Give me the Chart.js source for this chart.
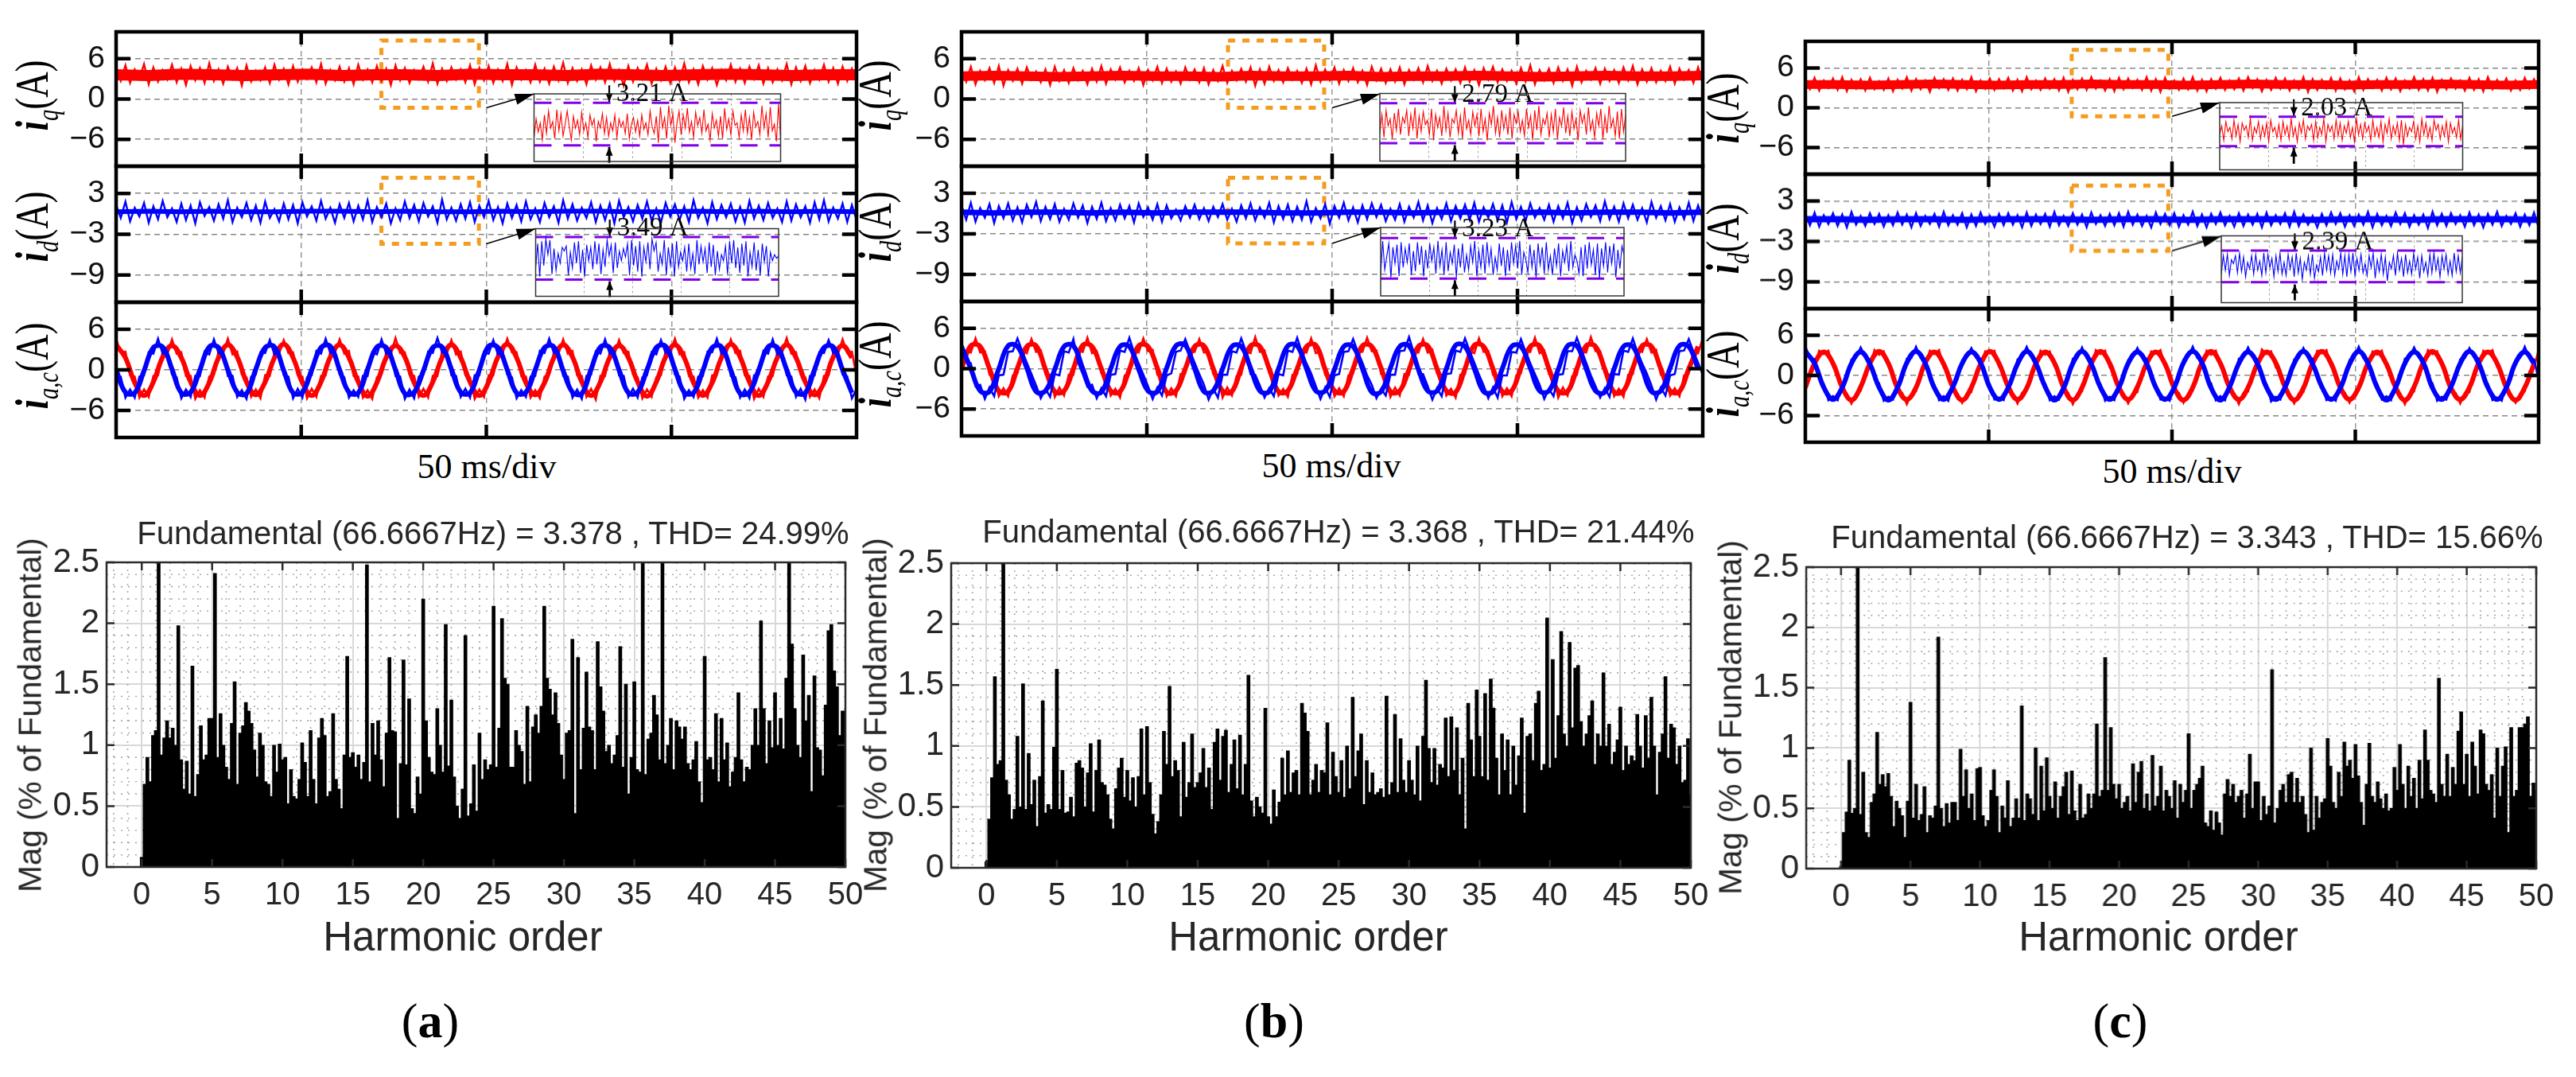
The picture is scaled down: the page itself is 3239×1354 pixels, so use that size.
<!DOCTYPE html>
<html>
<head>
<meta charset="utf-8">
<title>Current waveforms and harmonic spectra</title>
<script src="https://cdn.jsdelivr.net/npm/chart.js@4"></script>
<style>
html,body{margin:0;background:#fff;overflow:hidden}
#page{position:relative;width:3239px;height:1354px;background:#fff}
canvas{position:absolute}
.txt{position:absolute;white-space:nowrap;transform:translate(-50%,-50%)}
.sans{font-family:"Liberation Sans",sans-serif;color:#262626}
.serif{font-family:"Liberation Serif",serif;color:#000}
.ylab{font-size:60px;line-height:1;transform:translate(-50%,-50%) rotate(-90deg) scaleX(.75)}
.ylab sub{font-size:38px}
</style>
</head>
<body>
<div id="page"></div>
<script>
// Waveform traces, in 0.1 A.
const iqA = [
46,27,50,24,44,30,52,22,47,26,43,29,51,25,45,21,49,28,46,24,
53,27,44,23,48,30,46,20,50,26,42,28,47,24,51,29,45,22,49,26,
44,30,47,25,52,23,43,28,48,26,46,22,51,29,44,25,49,27,45,21,
50,28,46,24,43,30,48,26,53,23,45,27,47,29,44,25,50,22,46,28,
49,24,44,27,52,21,47,29,43,25,51,26,45,23,48,28,54,24,46,27,
44,22,50,29,47,25,52,27,43,20,49,26,46,30,51,23,45,28,48,24,
47,27,53,25,44,22,49,29,46,21,43,28,51,26,45,24,48,30,50,23,
46,25,44,28,52,22,47,27,49,24,43,29,51,26,46,23,48,27,45,25];
const idA = [
13,-6,18,-11,9,-4,16,-13,11,-8,19,-5,8,-12,15,-9,12,-14,17,-3,
10,-10,14,-7,20,-12,9,-5,16,-9,12,-13,18,-6,7,-11,15,-8,13,-14,
17,-4,11,-10,19,-7,9,-13,14,-6,16,-11,12,-8,20,-12,10,-5,15,-14,
8,-9,18,-6,13,-11,16,-4,11,-13,21,-8,9,-10,14,-7,17,-12,12,-5,
19,-9,10,-14,15,-6,13,-11,18,-8,8,-12,16,-5,11,-13,20,-7,14,-10,
9,-6,17,-12,12,-9,15,-14,19,-5,10,-11,13,-7,18,-10,8,-13,16,-4,
14,-9,11,-12,20,-6,9,-14,17,-8,13,-5,15,-11,10,-13,19,-7,12,-9,
16,-6,8,-12,18,-10,14,-5,11,-13,17,-8,20,-11,9,-7,15,-12,13,-9];
const iqB = [
44,26,48,22,42,28,46,24,49,20,43,27,45,23,47,29,41,25,44,21,
48,27,43,24,46,28,42,22,45,26,49,23,44,29,47,25,42,27,46,21,
43,28,48,24,45,26,41,23,47,29,44,25,46,22,43,27,49,24,42,28,
45,26,47,20,44,23,48,27,43,25,46,29,42,24,45,22,50,26,44,28,
47,23,43,27,46,25,42,21,48,28,45,24,44,26,47,22,43,29,46,25,
49,27,42,23,45,28,44,24,47,26,43,21,46,29,48,25,44,27,42,23,
46,26,50,22,43,28,45,24,47,27,44,20,48,25,42,29,46,23,45,27,
43,24,47,28,49,22,44,26,46,25,42,27,48,23,45,29,43,24,47,26];
const idB = [
12,-9,16,-12,8,-6,14,-14,11,-7,15,-10,9,-13,13,-5,17,-11,10,-8,
14,-12,7,-9,15,-6,12,-14,10,-8,16,-11,8,-10,13,-7,11,-13,15,-5,
9,-9,14,-12,12,-7,6,-10,11,-6,13,-8,8,-11,10,-5,14,-9,7,-12,
12,-7,15,-10,9,-6,16,-13,11,-8,13,-11,10,-9,18,-12,8,-7,14,-15,
11,-6,16,-10,9,-13,12,-8,15,-5,13,-11,7,-9,14,-12,10,-6,17,-10,
12,-14,8,-8,15,-11,11,-7,13,-9,16,-12,9,-6,14,-10,12,-13,17,-8,
10,-11,15,-6,8,-9,13,-12,11,-7,16,-14,9,-10,14,-5,12,-11,18,-8,
10,-12,15,-7,13,-9,8,-13,17,-6,11,-10,14,-12,9,-8,16,-11,12,-7];
const iqC = [
43,28,45,26,41,30,44,27,46,25,42,29,43,26,45,28,40,27,44,25,
42,29,46,26,43,28,41,24,45,30,43,27,44,26,42,28,46,25,41,29,
44,27,43,30,45,26,42,25,46,28,41,27,44,29,43,26,45,24,42,28,
44,27,46,29,41,26,43,25,45,28,44,30,42,27,46,26,43,24,45,29,
41,27,44,28,46,26,42,25,43,29,45,27,41,28,44,26,46,30,43,25,
42,27,45,29,44,26,41,28,46,24,43,27,42,29,45,26,44,28,41,25,
46,27,43,30,42,26,45,28,44,25,41,29,46,27,43,26,45,24,42,28,
44,29,41,26,45,27,43,25,46,28,42,30,44,26,41,27,45,29,43,26];
const idC = [
11,-6,13,-8,9,-4,12,-7,10,-9,14,-5,8,-7,12,-4,11,-8,9,-6,
13,-5,10,-9,12,-7,8,-4,11,-8,14,-6,9,-5,12,-9,10,-7,13,-4,
8,-8,11,-6,12,-5,9,-9,13,-7,10,-4,11,-8,14,-6,8,-7,12,-5,
10,-9,13,-4,9,-7,11,-6,12,-8,14,-5,10,-7,8,-9,13,-4,11,-6,
12,-8,9,-5,14,-7,10,-9,11,-4,13,-6,8,-8,12,-7,10,-5,11,-9,
13,-6,9,-4,12,-8,14,-7,10,-5,8,-9,11,-6,13,-4,12,-8,9,-7,
10,-5,14,-9,11,-6,8,-7,13,-4,12,-8,9,-5,10,-10,14,-6,11,-7,
12,-4,9,-8,13,-6,10,-9,11,-5,14,-7,8,-4,12,-8,10,-6,13,-9];
const iaA = [
46,25,27,-8,-10,-41,-29,-40,-9,-8,27,23,
45,24,26,-9,-9,-43,-30,-41,-10,-7,28,25,
46,23,27,-7,-11,-40,-29,-42,-8,-9,26,24,
44,25,26,-8,-10,-42,-28,-40,-9,-8,27,26,
45,24,28,-9,-10,-41,-30,-43,-11,-7,26,23,
47,25,26,-7,-9,-40,-28,-41,-9,-9,28,24,
44,23,27,-8,-11,-43,-29,-40,-8,-8,27,25,
46,26,26,-9,-10,-41,-30,-42,-10,-7,26,24,
45,24,28,-8,-9,-40,-28,-44,-9,-9,27,23,
44,25,27,-7,-11,-42,-29,-40,-11,-8,28,25,
46,23,26,-9,-10,-41,-30,-41,-8,-7,26,24,
45,25,28,-8,-9,-43,-28,-40,-10,-9,27,26,
47,24,26,-7,-11,-40,-29,-42,-9,-8,26,23,
45,25,27,-9];
const icA = [
-8,-10,-41,-29,-41,-10,-8,26,24,46,24,27,
-7,-11,-42,-29,-40,-9,-9,27,23,45,25,26,
-9,-9,-40,-30,-43,-10,-7,26,25,44,23,27,
-8,-10,-42,-28,-41,-11,-8,28,24,46,25,26,
-7,-11,-41,-30,-40,-9,-9,26,23,45,24,28,
-9,-10,-43,-29,-42,-10,-7,27,25,47,26,26,
-8,-9,-40,-28,-41,-8,-8,26,24,44,23,27,
-7,-11,-42,-30,-40,-10,-9,28,25,46,25,26,
-9,-10,-41,-29,-43,-9,-7,27,24,45,24,27,
-8,-9,-40,-28,-41,-11,-8,26,23,44,25,28,
-7,-10,-43,-30,-40,-10,-9,27,26,46,24,26,
-9,-11,-41,-29,-42,-8,-7,28,24,45,23,27,
-8,-10,-40,-28,-44,-9,-8,26,25,44,25,26,
-7,-10,-42,-29];
const iaB = [
-8,26,24,45,24,26,-9,-10,-41,-29,-41,-10,
-7,27,23,44,25,27,-8,-9,-42,-28,-40,-9,
-9,28,25,46,23,26,-7,-11,-40,-30,-43,-10,
-8,26,24,45,26,28,-9,-10,-41,-29,-41,-8,
-7,27,25,44,24,26,-8,-9,-43,-28,-40,-11,
-9,26,23,47,25,27,-7,-10,-40,-30,-42,-9,
-8,28,24,45,23,26,-9,-11,-41,-29,-41,-10,
-7,26,25,46,26,27,-8,-10,-42,-28,-40,-8,
-9,27,24,44,24,28,-7,-9,-40,-30,-43,-9,
-8,26,23,45,25,26,-9,-11,-41,-29,-41,-10,
-7,28,25,46,23,27,-8,-10,-43,-28,-40,-11,
-9,26,24,47,26,26,-7,-9,-41,-30,-42,-9,
-8,27,25,44,24,28,-9,-10,-40,-29,-41,-10,
-7,26,23,45];
const icB = [
40,10,8,-26,-24,-45,-28,-41,-10,-9,25,26,
45,26,9,-8,-25,-44,-30,-42,-8,-10,26,24,
44,9,-8,-27,-24,-44,-29,-41,-9,-8,27,25,
46,24,8,-9,-26,-45,-28,-40,-10,-7,25,27,
44,25,9,-8,-24,-46,-30,-43,-9,-9,26,24,
45,26,-8,-9,-25,-43,-29,-41,-8,-10,27,25,
46,24,8,-7,-26,-45,-28,-42,-10,-8,25,26,
44,25,9,-10,-24,-44,-30,-40,-9,-9,26,27,
47,24,-8,-8,-26,-46,-29,-41,-8,-7,27,25,
45,26,9,-9,-25,-44,-28,-43,-10,-10,25,24,
44,25,8,-8,-24,-45,-30,-41,-9,-8,26,26,
46,27,9,-10,-26,-43,-29,-42,-8,-9,27,25,
45,24,8,-7,-25,-46,-28,-40,-10,-8,26,27,
44,25,9,-9];
const iaC = [
-24,5,13,37,32,37,13,5,-24,-27,-42,-27,
-23,6,12,38,31,36,14,4,-25,-26,-43,-28,
-24,4,14,37,32,38,12,6,-23,-27,-41,-27,
-25,5,13,36,33,37,13,5,-24,-28,-42,-26,
-23,6,12,37,31,36,14,4,-25,-26,-43,-27,
-24,4,13,38,32,37,12,5,-23,-27,-42,-28,
-25,5,14,36,33,38,13,6,-24,-26,-41,-27,
-23,6,12,37,31,37,14,4,-25,-27,-43,-26,
-24,5,13,39,32,36,12,5,-24,-28,-42,-27,
-25,4,14,37,33,38,13,6,-23,-26,-41,-28,
-23,6,13,36,31,37,12,4,-25,-27,-43,-27,
-24,5,12,38,32,36,14,5,-24,-26,-42,-26,
-25,4,13,37,33,38,13,6,-23,-28,-41,-27,
-24,6,12,38];
const icC = [
43,27,24,-5,-13,-37,-31,-37,-13,-5,24,27,
42,28,23,-6,-12,-38,-32,-36,-14,-4,25,26,
43,26,24,-4,-14,-37,-31,-38,-12,-6,23,28,
41,27,25,-5,-13,-36,-33,-37,-13,-5,24,27,
43,28,23,-6,-12,-37,-31,-36,-14,-4,25,26,
42,26,24,-4,-13,-38,-32,-37,-12,-5,23,27,
41,27,25,-5,-14,-36,-33,-38,-13,-6,24,28,
43,26,23,-6,-12,-37,-31,-37,-14,-4,25,27,
42,28,24,-5,-13,-39,-32,-36,-12,-5,24,26,
41,27,25,-4,-14,-37,-33,-38,-13,-6,23,27,
43,26,23,-6,-13,-36,-31,-37,-12,-4,25,28,
42,27,24,-5,-12,-38,-32,-36,-14,-5,24,26,
41,28,25,-4,-13,-37,-33,-38,-13,-6,23,27,
43,26,24,-6];

// Solid core of each trace, in 0.1 A
const coreIqA = [36,35,37,36,35,36,37,35,36,36,35,37,36,36,35,37,36,35,36,37,36,35,36,36];
const coreIdA = [3,4,3,4,3,3,4,4,3,4,3,3,4,3,4,4,3,3,4,3,4,3,4,3];
const coreIqB = [34,35,34,33,34,35,34,34,33,35,34,34,35,33,34,34,35,34,33,34,35,34,34,35];
const coreIdB = [2,1,2,2,1,2,1,2,2,2,1,1,2,2,1,2,2,1,2,1,2,2,1,2];
const coreIqC = [35,35,34,35,36,35,34,35,35,36,35,35,34,35,36,35,35,34,35,35,36,35,34,35];
const coreIdC = [3,3,2,3,3,2,3,3,3,2,3,3,2,3,3,3,2,3,3,2,3,3,3,2];
const coreIaA = [
37,18,-19,-38,-18,19, 36,18,-18,-38,-19,18, 37,19,-18,-37,-18,18, 38,18,-19,-38,-18,19,
37,18,-18,-39,-19,18, 36,19,-19,-38,-18,18, 37,18,-18,-38,-18,19, 38,18,-19,-37,-19,18,
37,19,-18,-38,-18,18, 36,18,-18,-39,-18,19, 37,18,-19,-38,-19,18, 38,19,-18,-38,-18,18,
37,18,-18,-37,-19,19, 36,18];
const coreIcA = [
0,-33,-34,-1,33,34, 1,-34,-33,0,34,33, 0,-33,-35,1,33,34, -1,-34,-33,0,33,35,
0,-33,-34,1,34,33, 0,-35,-33,-1,33,34, 1,-33,-34,0,35,33, 0,-34,-33,0,33,34,
-1,-33,-35,1,34,33, 0,-34,-33,0,33,35, 1,-33,-34,-1,33,34, 0,-35,-33,0,34,33,
0,-33,-34,1,33,34, 0,-34];
const coreIaB = [
0,34,33,0,-33,-34, 1,33,34,-1,-34,-33, 0,35,33,0,-33,-34, -1,34,33,1,-35,-33,
0,33,34,0,-33,-34, 1,34,33,0,-34,-33, 0,33,35,-1,-33,-34, 0,34,33,1,-34,-33,
-1,33,34,0,-33,-35, 0,35,33,0,-34,-33, 1,33,34,0,-33,-34, 0,34,33,-1,-35,-33,
1,34,33,0,-33,-34, 0,33];
const coreIcB = [
33,0,-33,-34,0,34, 33,1,-34,-33,-1,33, 34,0,-33,-35,0,33, 33,-1,-33,-34,1,34,
35,0,-34,-33,0,33, 33,1,-33,-34,0,34, 34,0,-33,-33,-1,33, 33,0,-35,-34,1,33,
34,-1,-33,-33,0,35, 33,0,-34,-34,0,33, 33,1,-33,-33,-1,34, 34,0,-33,-35,0,33,
33,0,-34,-33,1,34, 33,0];
const coreIaC = [
-18,18,35,18,-18,-37, -17,18,36,18,-19,-36, -18,19,35,17,-18,-37, -18,17,36,18,-17,-36,
-19,18,35,19,-18,-37, -18,18,36,18,-18,-36, -17,18,35,17,-19,-37, -18,19,36,18,-18,-36,
-18,17,35,19,-17,-37, -19,18,36,18,-18,-36, -18,18,35,17,-18,-37, -17,19,36,18,-19,-36,
-18,18,35,18,-18,-37, -18,17];
const coreIcC = [
36,18,-18,-36,-18,18, 35,17,-18,-37,-18,19, 36,18,-19,-36,-17,18, 35,19,-18,-36,-18,17,
36,18,-17,-37,-19,18, 36,17,-18,-36,-18,18, 35,18,-18,-36,-18,19, 36,19,-19,-37,-17,18,
35,18,-18,-36,-18,18, 36,17,-17,-36,-19,17, 36,18,-18,-37,-18,18, 35,19,-19,-36,-17,18,
36,18,-18,-36,-18,19, 35,18];

// Zoomed insets, in 0.1 A
const zoomIqA = [
26,40,30,37,24,43,29,46,33,38,25,47,31,44,27,36,46,34,24,42,33,39,28,45,31,37,26,43,35,40,
23,38,33,44,29,41,27,37,31,43,26,40,34,38,29,44,25,36,41,30,39,27,43,32,37,28,46,34,29,42,
22,49,33,41,25,50,35,44,22,37,46,28,43,33,48,30,38,26,45,35,41,29,47,31,36,24,44,33,39,27,
42,25,48,32,40,28,46,35,37,26,43,31,47,29,41,24,45,34,38,28,50,33,44,26,49,31,36,23,51,24];
const zoomIdA = [
-8,12,-15,14,-6,16,3,15,-13,8,-10,4,-4,9,6,10,-14,5,-8,13,-4,14,-12,7,-15,11,-2,9,-9,14,
-5,12,-13,7,-7,15,2,11,-12,13,-8,6,-2,8,1,12,-14,15,-6,10,-11,14,-15,9,-3,13,-9,16,6,13,
-11,4,-5,15,-14,9,-6,12,-15,14,-7,5,-2,9,-11,12,-8,4,-13,15,-5,10,-3,8,-12,13,-7,11,-14,6,
-9,3,-2,10,-13,14,-4,15,-8,9,-12,12,-6,14,-15,5,-7,13,-10,7,-14,12,-3,10,-15,5,-2,3,0,2];
const zoomIqB = [
28,41,25,44,33,38,24,42,30,45,27,39,35,44,26,41,31,46,24,40,29,43,34,37,27,45,23,41,32,39,
26,47,30,42,25,38,35,44,28,40,24,46,31,37,27,43,33,41,26,45,29,38,23,42,34,47,28,39,25,44,
31,40,27,46,24,41,35,43,29,37,26,45,32,40,23,44,30,47,27,38,34,42,25,41,29,45,24,39,33,46,
28,40,26,43,31,38,23,44,35,41,27,46,30,37,25,42,33,45,24,40,28,47,32,38,26,43,24,45,29,41];
const zoomIdB = [
-12,15,-8,3,13,-14,10,-3,12,-13,14,-6,9,-2,13,-12,7,-9,14,-4,11,-13,8,-7,13,-1,10,-11,15,-5,
8,-12,14,-9,6,-3,12,-14,9,-6,13,-10,4,-8,11,-2,15,-13,7,-6,12,-11,14,-4,9,-12,2,-8,13,-5,
10,-13,8,-9,14,-3,11,-7,15,-12,6,0,-10,12,-6,8,-14,13,-4,10,-11,14,-8,3,-12,9,-5,13,-13,7,
-2,11,-9,15,-6,4,-1,-11,10,-13,12,-7,14,-4,8,-12,13,-15,9,-5,14,-10,11,-3,13,-14,8,-7,11,4];
const zoomIqC = [
31,37,27,40,33,36,28,41,30,38,26,39,34,37,29,42,27,36,32,40,28,37,30,39,26,41,33,36,29,38,
27,40,31,37,28,42,30,36,26,39,32,41,28,37,34,38,27,40,29,36,31,42,26,38,33,37,28,41,30,39,
27,37,32,40,29,36,26,42,31,38,28,39,33,37,27,41,30,36,29,40,26,38,32,42,28,37,31,39,27,41,
24,38,30,36,33,40,28,37,26,42,31,39,29,36,27,41,34,38,28,37,30,40,26,39,32,36,29,41,28,37];
const zoomIdC = [
-6,8,-3,9,-7,5,2,8,-5,10,-4,7,-8,3,-2,8,-6,9,-3,4,-7,10,-5,9,-1,6,-8,8,-4,10,
-6,3,-7,9,-2,7,-8,10,-5,6,-10,3,-3,8,-6,9,-9,1,-4,7,-7,10,-3,8,-5,9,-7,4,-2,10,
-6,8,-8,9,-4,10,-7,6,-3,9,-5,2,-7,8,-1,10,-9,5,-4,9,-6,7,-11,3,-2,8,-7,10,-3,6,
-8,9,-5,4,-6,10,-2,7,-9,8,-4,3,-7,9,-5,10,-3,6,-8,8,-2,9,-6,4,-7,10,-4,8,-5,7];

// Harmonic spectra, % of fundamental x100, five values per harmonic order
const specA = [
8,68,90,70,108, 112,260,92,106,120, 106,114,100,198,88, 64,87,60,165,58, 76,116,88,92,122,
122,241,90,126,100, 82,72,118,152,68, 110,116,135,128,118, 96,74,110,100,70, 68,58,100,78,101,
88,90,52,80,58, 56,72,102,86,58, 112,72,52,106,122, 108,58,62,126,72, 64,48,92,173,90,
94,82,92,72,86, 248,70,118,92,120, 88,66,110,172,112, 111,40,85,170,84, 138,48,44,74,60,
220,120,90,78,76, 130,100,78,199,83, 137,74,50,40,64, 190,42,52,84,46, 110,72,88,80,84,
214,82,114,204,155, 150,82,82,112,100, 95,68,132,70,115, 125,110,132,214,155, 146,125,143,118,92,
72,110,112,187,44, 172,80,114,160,115, 112,80,185,148,128, 95,100,85,92,108, 181,82,150,60,90,
152,80,78,260,76, 105,110,141,125,88, 260,85,100,122,80, 120,115,105,115,85, 80,88,103,70,53,
173,88,90,80,126, 70,122,88,102,66, 78,90,143,88,70, 82,80,100,130,100, 202,130,85,120,98,
143,100,122,97,155, 260,183,130,100,90, 174,120,141,62,157, 98,96,75,133,194, 199,161,148,108,128,
128];
const specB = [
5,40,74,157,85, 88,260,72,60,40, 48,108,50,151,48, 94,52,72,34,75, 137,45,52,48,99,
163,48,80,45,46, 58,42,86,88,82, 50,78,102,46,80, 105,70,68,60,40, 32,65,82,90,58,
80,55,74,50,75, 114,60,116,70,44, 28,38,60,112,85, 149,75,88,80,42, 103,58,70,110,66,
70,78,98,66,82, 48,103,114,72,108, 113,62,85,105,65, 109,60,85,158,55, 42,58,50,45,131,
42,36,64,42,54, 90,60,96,62,78, 80,60,135,127,112, 60,72,85,62,80, 78,119,60,95,75,
62,88,58,100,65, 140,75,96,110,52, 88,62,78,60,62, 65,58,141,60,70, 126,62,106,72,62,
88,72,60,100,55, 108,154,98,70,98, 68,85,82,123,75, 124,80,115,60,90, 32,135,105,75,146,
108,75,143,72,155, 131,90,60,110,80, 105,60,100,68,92, 123,45,108,110,88, 135,145,80,85,205,
82,171,90,125,194, 110,100,185,115,164, 166,120,100,110,125, 137,85,110,100,160, 100,118,85,95,105,
132,80,100,85,92, 88,126,100,82,125, 90,140,100,60,95, 110,157,90,118,115, 85,100,70,72,106,
60];
const specC = [
2,30,47,90,46, 50,260,45,80,30, 26,55,62,113,70, 78,68,79,60,35, 56,50,44,26,56,
138,42,70,40,45, 68,30,44,42,52, 192,50,35,54,38, 55,55,40,99,60, 82,50,62,40,83,
84,44,35,40,65, 82,60,30,52,42, 73,35,42,58,42, 135,40,62,58,45, 100,40,85,48,92,
60,50,72,42,60, 68,80,45,81,48, 40,70,42,45,62, 50,62,120,60,65, 175,65,117,70,58,
70,50,55,60,48, 87,55,80,89,50, 62,48,94,52,60, 85,48,65,60,50, 73,42,70,55,65,
112,50,65,70,75, 85,38,35,48,32, 47,38,28,62,74, 60,70,55,60,65, 42,62,95,50,72,
72,40,60,45,52, 165,38,50,65,70, 55,78,80,55,75, 55,60,45,30,100, 32,60,42,55,58,
108,85,55,50,80, 60,105,85,90,75, 103,77,55,36,70, 104,60,55,72,58, 50,62,48,50,84,
65,103,70,50,85, 60,75,50,90,58, 115,90,65,62,55, 158,70,60,95,60, 84,70,114,130,70,
95,60,105,85,62, 115,112,70,65,78, 42,100,60,85,101, 30,117,60,65,117, 117,120,126,60,71,
65];

const iqTicks = [6,0,-6];
const idTicks = [3,-3,-9];
const iaTicks = [6,0,-6];
const magTicks = [0,0.5,1,1.5,2,2.5];
const orderTicks = [0,5,10,15,20,25,30,35,40,45,50];
const minorOrders = [-2,-1,1,2,3,4,6,7,8,9,11,12,13,14,16,17,18,19,21,22,23,24,26,27,28,29,31,32,33,34,36,37,38,39,41,42,43,44,46,47,48,49];
const minorMags = [0.1,0.2,0.3,0.4,0.6,0.7,0.8,0.9,1.1,1.2,1.3,1.4,1.6,1.7,1.8,1.9,2.1,2.2,2.3,2.4];
const peakIq = [3.21,2.79,2.03];
const peakId = [3.49,3.23,2.39];
const titles = [
  'Fundamental (66.6667Hz) = 3.378 , THD= 24.99%',
  'Fundamental (66.6667Hz) = 3.368 , THD= 21.44%',
  'Fundamental (66.6667Hz) = 3.343 , THD= 15.66%'];

// Layout, page pixels
const STRIP_X = [[146,1077],[1209,2141],[2270,3192]];
const STRIP_Y = [[40,209,380,550],[39.5,209,379,548],[52,219,387.5,555.5]];
const INSET_IQ = [[671.5,118,981.5,203],[1735,117.5,2044,202.5],[2791,129,3096.5,213.5]];
const INSET_ID = [[673.5,287.5,979,372.5],[1736,286,2042,372],[2793,296.5,3096,380.5]];
const RANGE_IQ = [[.78,5.89,2,5.21],[.85,5.57,2.1,4.89],[.68,5.3,2.3,4.33]];
const RANGE_ID = [[-3.12,2.43,-1.75,1.74],[-2.87,2.57,-1.5,1.73],[-2.75,2.3,-1.2,1.19]];
const ORANGE_X = [[1.433,1.96],[1.438,1.957],[1.453,1.98]];
const SPEC_BOX = [[134,1063,707,1090],[1196,2126,708,1091],[2271,3188.5,713,1092]];

const RED = '#ff0000', BLUE = '#0000ff', ORANGE = '#f39c1e', PURPLE = '#8000e8';
const page = document.getElementById('page');

function addCanvas(x,y,w,h){
  const c = document.createElement('canvas');
  c.width = w; c.height = h;
  c.style.left = x+'px'; c.style.top = y+'px';
  c.style.width = w+'px'; c.style.height = h+'px';
  page.appendChild(c);
  return c;
}
function addText(html,x,y,cls,css){
  const d = document.createElement('div');
  d.className = 'txt '+cls;
  d.innerHTML = html;
  d.style.cssText = `left:${x}px;top:${y}px;${css||''}`;
  page.appendChild(d);
}
const series = (vals,span)=>vals.map((v,i)=>({x:i/(vals.length-1)*span, y:v/10}));
const fixTicks = (list)=>(s)=>{ s.ticks = list.map(v=>({value:v})); };
// keep the plot box exact: no room for label overhang
const fitBox = (w,h)=>(s)=>{
  if(w!==null) s.width = w;
  if(h!==null) s.height = h;
  s.paddingLeft = s.paddingRight = s.paddingTop = s.paddingBottom = 0;
};

function arrowHead(g,x0,y0,x1,y1,len,wid){
  const a = Math.atan2(y1-y0,x1-x0);
  g.beginPath();
  g.moveTo(x1,y1);
  g.lineTo(x1-len*Math.cos(a)+wid*Math.sin(a), y1-len*Math.sin(a)-wid*Math.cos(a));
  g.lineTo(x1-len*Math.cos(a)-wid*Math.sin(a), y1-len*Math.sin(a)+wid*Math.cos(a));
  g.closePath(); g.fill();
}
function arrow(g,x0,y0,x1,y1,len,wid,lw){
  g.lineWidth = lw; g.beginPath(); g.moveTo(x0,y0); g.lineTo(x1,y1); g.stroke();
  arrowHead(g,x0,y0,x1,y1,len,wid);
}

// One of the three stacked scope strips. Chart.js paints the first dataset last.
function makeStrip(col,row,traces,yMin,yMax,yTicks,note){
  const [x0,x1] = STRIP_X[col], top = STRIP_Y[col][row], bot = STRIP_Y[col][row+1];
  const padL = 110, pad = 6, ox = x0-padL, oy = top-pad;
  const cv = addCanvas(ox,oy,x1-x0+padL+pad,bot-top+2*pad);
  new Chart(cv,{
    type:'line',
    data:{datasets:traces.map(t=>({data:series(t.vals,t.span||4),borderColor:t.color,borderWidth:t.width,pointRadius:0,tension:t.smooth?0.4:0}))},
    options:{
      responsive:false, animation:false, devicePixelRatio:1,
      layout:{autoPadding:false,padding:{left:0,right:pad,top:pad,bottom:pad}},
      plugins:{legend:{display:false},tooltip:{enabled:false}},
      scales:{
        x:{type:'linear',min:0,max:4,afterBuildTicks:fixTicks([1,2,3]),afterFit:fitBox(null,0),
           ticks:{display:false},grid:{color:'#999',lineWidth:1.5,drawTicks:false},border:{display:false,dash:[7,5]}},
        y:{min:yMin,max:yMax,afterBuildTicks:fixTicks(yTicks),afterFit:fitBox(padL,null),
           ticks:{padding:14,color:'#111',font:{family:'"Liberation Sans"',size:39},callback:v=>String(v).replace('-','\u2212')},
           grid:{color:'#888',lineWidth:1.5,drawTicks:false},border:{display:false,dash:[7,5]}}
      }
    },
    plugins:[{
      id:'stripMarks',
      beforeDatasetsDraw(c){
        if(!note) return;
        const g = c.ctx, sx = c.scales.x, sy = c.scales.y, ox0 = ORANGE_X[col];
        g.save();
        g.strokeStyle = ORANGE; g.lineWidth = 5; g.setLineDash([9,9]);
        const bx = sx.getPixelForValue(ox0[0]), by = sy.getPixelForValue(note.box[1]);
        g.strokeRect(bx,by,sx.getPixelForValue(ox0[1])-bx,sy.getPixelForValue(note.box[0])-by);
        g.restore();
      },
      afterDraw(c){
        const g = c.ctx, a = c.chartArea, sx = c.scales.x, sy = c.scales.y;
        g.save();
        g.strokeStyle = '#000'; g.fillStyle = '#000';
        g.lineWidth = 4.5;
        g.beginPath();
        [1,2,3].forEach(v=>{
          const p = sx.getPixelForValue(v);
          g.moveTo(p,a.top); g.lineTo(p,a.top+16);
          g.moveTo(p,a.bottom); g.lineTo(p,a.bottom-16);
        });
        yTicks.forEach(v=>{
          const p = sy.getPixelForValue(v);
          g.moveTo(a.left,p); g.lineTo(a.left+18,p);
          g.moveTo(a.right,p); g.lineTo(a.right-18,p);
        });
        g.stroke();
        g.strokeRect(a.left,a.top,a.right-a.left,a.bottom-a.top);
        if(note){
          const [fx0,fy0,fx1] = note.frame, hiY = fy0+(note.range[1]-note.range[3])/(note.range[1]-note.range[0])*(note.frame[3]-fy0);
          const loY = fy0+(note.range[1]-note.range[2])/(note.range[1]-note.range[0])*(note.frame[3]-fy0);
          const ax = fx0+0.305*(fx1-fx0)-ox;
          arrow(g,sx.getPixelForValue(2),sy.getPixelForValue(note.box[0]),fx0-ox,fy0-oy,24,7,1.6);
          arrow(g,ax,hiY-oy-22,ax,hiY-oy-1,11,4.5,2.2);
          arrow(g,ax,loY-oy+22,ax,loY-oy+2,11,4.5,2.8);
          g.font = '33px "Liberation Serif"';
          g.textAlign = 'left'; g.textBaseline = 'alphabetic';
          g.fillText(note.peak.toFixed(2)+' A',ax+9,hiY-oy-2);
        }
        g.restore();
      }
    }]
  });
}

// Zoomed detail with its two envelope lines
function makeInset(frame,vals,color,range){
  const [x0,y0,x1,y1] = frame;
  const cv = addCanvas(Math.floor(x0)-2,Math.floor(y0)-2,Math.ceil(x1-x0)+5,Math.ceil(y1-y0)+5);
  const dl = x0-(Math.floor(x0)-2), dt = y0-(Math.floor(y0)-2);
  const envelope = v=>[{x:0,y:v},{x:5,y:v}];
  new Chart(cv,{
    type:'line',
    data:{datasets:[
      {data:series(vals,5),borderColor:color,borderWidth:1.1,pointRadius:0,tension:0},
      {data:envelope(range[2]),borderColor:PURPLE,borderWidth:3,borderDash:[22,15],pointRadius:0},
      {data:envelope(range[3]),borderColor:PURPLE,borderWidth:3,borderDash:[22,15],pointRadius:0}
    ]},
    options:{
      responsive:false, animation:false, devicePixelRatio:1,
      layout:{autoPadding:false,padding:{left:dl,right:cv.width-dl-(x1-x0),top:dt,bottom:cv.height-dt-(y1-y0)}},
      plugins:{legend:{display:false},tooltip:{enabled:false}},
      scales:{
        x:{type:'linear',min:0,max:5,afterBuildTicks:fixTicks([1,2,3,4]),afterFit:fitBox(null,0),
           ticks:{display:false},grid:{color:'#aaa',lineWidth:1,drawTicks:false},border:{display:false,dash:[3,3]}},
        y:{min:range[0],max:range[1],afterBuildTicks:fixTicks([(range[0]+range[1])/2]),afterFit:fitBox(0,null),
           ticks:{display:false},grid:{color:'#aaa',lineWidth:1,drawTicks:false},border:{display:false,dash:[3,3]}}
      }
    },
    plugins:[{
      id:'insetFrame',
      afterDraw(c){
        const g = c.ctx, a = c.chartArea;
        g.save(); g.strokeStyle = '#333'; g.lineWidth = 1.5;
        g.strokeRect(a.left,a.top,a.right-a.left,a.bottom-a.top);
        g.restore();
      }
    }]
  });
}

// Harmonic spectrum bars
function makeSpectrum(col,vals){
  const [x0,x1,top,bot] = SPEC_BOX[col];
  const padL = 130, padR = 34, pad = 30, padB = 70;
  const cv = addCanvas(x0-padL,top-pad,x1-x0+padL+padR,bot-top+pad+padB);
  new Chart(cv,{
    type:'bar',
    data:{datasets:[{data:vals.map((v,i)=>({x:i/5,y:v/100})),backgroundColor:'#000',barThickness:4,borderWidth:0}]},
    options:{
      responsive:false, animation:false, devicePixelRatio:1,
      layout:{autoPadding:false,padding:{left:0,right:padR,top:pad,bottom:0}},
      plugins:{legend:{display:false},tooltip:{enabled:false}},
      scales:{
        x:{type:'linear',offset:false,min:-2.5,max:50,afterBuildTicks:fixTicks(orderTicks),afterFit:fitBox(null,padB),
           ticks:{padding:12,autoSkip:false,maxRotation:0,color:'#262626',font:{family:'"Liberation Sans"',size:40},callback:v=>String(v)},
           grid:{offset:false,color:'#d8d8d8',lineWidth:2,drawTicks:false},border:{display:false}},
        y:{min:0,max:2.5,afterBuildTicks:fixTicks(magTicks),afterFit:fitBox(padL,null),
           ticks:{padding:9,color:'#262626',font:{family:'"Liberation Sans"',size:42},callback:v=>String(v)},
           grid:{color:'#d8d8d8',lineWidth:2,drawTicks:false},border:{display:false}}
      }
    },
    plugins:[{
      id:'specMarks',
      beforeDatasetsDraw(c){
        const g = c.ctx, a = c.chartArea, sx = c.scales.x, sy = c.scales.y;
        g.save(); g.strokeStyle = '#aaa'; g.lineWidth = 1.6; g.setLineDash([2,7]);
        g.beginPath();
        minorOrders.forEach(v=>{ const p = sx.getPixelForValue(v); g.moveTo(p,a.top); g.lineTo(p,a.bottom); });
        minorMags.forEach(v=>{ const p = sy.getPixelForValue(v); g.moveTo(a.left,p); g.lineTo(a.right,p); });
        g.stroke(); g.restore();
      },
      afterDraw(c){
        const g = c.ctx, a = c.chartArea, sx = c.scales.x, sy = c.scales.y;
        g.save(); g.strokeStyle = '#2b2b2b'; g.lineWidth = 2.5;
        g.beginPath();
        orderTicks.forEach(v=>{
          const p = sx.getPixelForValue(v);
          g.moveTo(p,a.top); g.lineTo(p,a.top+10);
          g.moveTo(p,a.bottom); g.lineTo(p,a.bottom-10);
        });
        magTicks.forEach(v=>{
          const p = sy.getPixelForValue(v);
          g.moveTo(a.left,p); g.lineTo(a.left+10,p);
          g.moveTo(a.right,p); g.lineTo(a.right-10,p);
        });
        g.stroke();
        g.strokeRect(a.left,a.top,a.right-a.left,a.bottom-a.top);
        g.restore();
      }
    }]
  });
}

const iqData = [iqA,iqB,iqC], idData = [idA,idB,idC];
const iaData = [iaA,iaB,iaC], icData = [icA,icB,icC];
const iqCore = [coreIqA,coreIqB,coreIqC], idCore = [coreIdA,coreIdB,coreIdC];
const iaCore = [coreIaA,coreIaB,coreIaC], icCore = [coreIcA,coreIcB,coreIcC];
const iqCoreWidth = [14,12,11], idCoreWidth = [6,7,8];
const CORE_SPAN = 4*158/159; // core samples sit on every second trace sample
const zoomIq = [zoomIqA,zoomIqB,zoomIqC], zoomId = [zoomIdA,zoomIdB,zoomIdC];
const specData = [specA,specB,specC];

const labelX = [44,1104,2170];
const labelY = [[120,285,460],[120,285,458],[136,300,470]];
const divText = [[612,586],[1674,585],[2731,592]];
const titleAt = [[620,670],[1683,668],[2750,675]];
const orderAt = [[582,1177],[1645,1177],[2714,1177]];
const magAt = [[38,899],[1101,899],[2176,902]];
const letterAt = [[541,1283],[1602,1283],[2666,1283]];
const letters = ['a','b','c'];

[0,1,2].forEach(col=>{
  makeStrip(col,0,[{vals:iqData[col],color:RED,width:2.4},{vals:iqCore[col],color:RED,width:iqCoreWidth[col]}],-10,10,iqTicks,
    {box:[-1.3,8.7],frame:INSET_IQ[col],range:RANGE_IQ[col],peak:peakIq[col]});
  makeStrip(col,1,[{vals:idData[col],color:BLUE,width:2.4},{vals:idCore[col],color:BLUE,width:idCoreWidth[col]}],-13,7,idTicks,
    {box:[-4.4,5.3],frame:INSET_ID[col],range:RANGE_ID[col],peak:peakId[col]});
  makeStrip(col,2,[
    {vals:icData[col],color:BLUE,width:2.6},{vals:icCore[col],color:BLUE,width:6,smooth:true,span:CORE_SPAN},
    {vals:iaData[col],color:RED,width:2.6},{vals:iaCore[col],color:RED,width:6,smooth:true,span:CORE_SPAN}],-10,10,iaTicks,null);
  makeInset(INSET_IQ[col],zoomIq[col],RED,RANGE_IQ[col]);
  makeInset(INSET_ID[col],zoomId[col],BLUE,RANGE_ID[col]);
  makeSpectrum(col,specData[col]);

  addText('<b><i>i</i></b><i><sub>q</sub></i>(A)',labelX[col],labelY[col][0],'serif ylab');
  addText('<b><i>i</i></b><i><sub>d</sub></i>(A)',labelX[col],labelY[col][1],'serif ylab');
  addText('<b><i>i</i></b><i><sub>a,c</sub></i>(A)',labelX[col],labelY[col][2],'serif ylab');
  addText('50 ms/div',divText[col][0],divText[col][1],'serif','font-size:44px');
  addText(titles[col],titleAt[col][0],titleAt[col][1],'sans','font-size:40px');
  addText('Harmonic order',orderAt[col][0],orderAt[col][1],'sans','font-size:51px');
  addText('Mag (% of Fundamental)',magAt[col][0],magAt[col][1],'sans','font-size:40.5px;transform:translate(-50%,-50%) rotate(-90deg)');
  addText(`(<b>${letters[col]}</b>)`,letterAt[col][0],letterAt[col][1],'serif','font-size:62px');
});
</script>
</body>
</html>
